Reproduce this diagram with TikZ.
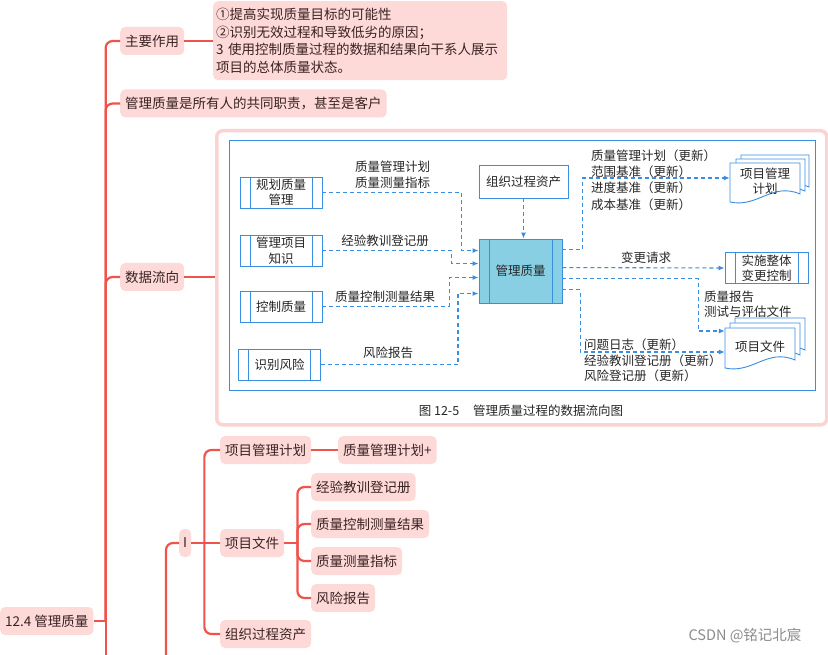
\documentclass[tikz,border=0pt]{standalone}
\usepackage{fontspec}
\setmainfont{Noto Sans CJK SC}
\usetikzlibrary{arrows.meta,calc}
\definecolor{mmline}{HTML}{F2524C}
\definecolor{mmfill}{HTML}{FDDAD8}
\definecolor{mmtext}{HTML}{3A2222}
\definecolor{bl}{HTML}{3A8EE0}
\definecolor{blfill}{HTML}{88CFE3}
\definecolor{framecol}{HTML}{FBD3D2}
\definecolor{dtext}{HTML}{262626}
\newcommand\mydocshape[4]{%
  \filldraw[draw=bl, fill=white, line width=0.9pt] (#1,#2) -- ({#1+#3},#2) -- ({#1+#3},{#2+#4-8})
   .. controls ({#1+0.6*#3},{#2+#4-20}) and ({#1+0.4*#3},{#2+#4+6}) .. (#1,{#2+#4}) -- cycle;}
\begin{document}
\begin{tikzpicture}[x=1pt,y=-1pt,
  mm/.style={fill=mmfill, rounded corners=5pt, inner xsep=5pt, inner ysep=0pt, minimum height=28pt,
     text=mmtext, font=\fontsize{13.5}{16}\selectfont, anchor=west},
  mml/.style={draw=mmline, line width=2.2pt, rounded corners=7pt},
  dfont/.style={font=\fontsize{12.5}{15.5}\selectfont, text=dtext},
  plainbox/.style={draw=bl, line width=0.9pt, fill=white, inner sep=0pt, align=center, dfont},
  proc/.style={plainbox, minimum width=82pt, minimum height=31pt,
     path picture={\draw[bl, line width=0.9pt]
       ([xshift=10pt]path picture bounding box.north west) -- ([xshift=10pt]path picture bounding box.south west)
       ([xshift=-10pt]path picture bounding box.north east) -- ([xshift=-10pt]path picture bounding box.south east);}},
  flow/.style={draw=bl, line width=1.1pt, dash pattern=on 4pt off 3pt, -{Latex[length=6pt,width=5pt]}},
  lbl/.style={dfont, inner sep=0pt},
]
\useasboundingbox (0,0) rectangle (828,655);
\fill[white] (0,0) rectangle (828,655);

% ---------- mind map ----------
\node[mm] (root) at (0,621) {12.4 管理质量};
\node[mm] (zy) at (120,41) {主要作用};
\node[mm, anchor=north west, align=left, text width=288pt, inner xsep=3pt, inner ysep=3pt, minimum height=79pt,
      font=\fontsize{13.5}{17.7}\selectfont] (desc) at (213,1)
  {①提高实现质量目标的可能性\\②识别无效过程和导致低劣的原因；\\3 使用控制质量过程的数据和结果向干系人展示\\项目的总体质量状态。};
\node[mm] (gl) at (120,103.5) {管理质量是所有人的共同职责，甚至是客户};
\node[mm] (sj) at (120,277) {数据流向};
\node[mm, inner xsep=4pt] (I) at (179,543) {I};
\node[mm] (xmjh) at (220,450) {项目管理计划};
\node[mm] (zlgl) at (338,450) {质量管理计划+};
\node[mm] (xmwj) at (220,543) {项目文件};
\node[mm] (c1) at (311,487) {经验教训登记册};
\node[mm] (c2) at (311,524) {质量控制测量结果};
\node[mm] (c3) at (311,561) {质量测量指标};
\node[mm] (c4) at (311,598) {风险报告};
\node[mm] (zzgc) at (220,634) {组织过程资产};

\node[draw=framecol, line width=3.5pt, rounded corners=6pt, fill=white, minimum width=610pt, minimum height=294pt,
      anchor=north west, inner sep=0pt] (fr) at (215,129) {};

\draw[mml] (root.east) -- ++(12,0) coordinate (trunk);
\draw[mml] (trunk) |- (zy.west);
\draw[mml] (trunk) |- (gl.west);
\draw[mml] (trunk) |- (sj.west);
\draw[mml] (trunk) -- ($(trunk)+(0,45)$);
\draw[mml] (zy.east) -- (zy.east -| desc.west);
\draw[mml] (sj.east) -- (sj.east -| fr.west);
\draw[mml] (I.west) -| ($(I.west)+(-13,120)$);
\draw[mml] (I.east) -- ++(13,0) coordinate (ib);
\draw[mml] (ib) |- (xmjh.west);
\draw[mml] (ib) |- (zzgc.west);
\draw[mml] (ib) -- (xmwj.west);
\draw[mml] (xmjh.east) -- (zlgl.west);
\draw[mml] (xmwj.east) -- ++(13,0) coordinate (wb);
\draw[mml] (wb) |- (c1.west);
\draw[mml] (wb) |- (c2.west);
\draw[mml] (wb) |- (c3.west);
\draw[mml] (wb) |- (c4.west);

% ---------- data flow diagram ----------
\draw[bl, line width=0.9pt] (229,140) rectangle (815,390);

\node[proc] (p1) at (281,192.5) {规划质量\\管理};
\node[proc] (p2) at (281,250.5) {管理项目\\知识};
\node[proc] (p3) at (281,306.5) {控制质量};
\node[proc] (p4) at (279.5,364.5) {识别风险};
\node[proc, fill=blfill, minimum width=83pt, minimum height=64pt] (mq) at (520.5,271) {管理质量};
\node[plainbox, minimum width=89pt, minimum height=33pt] (opa) at (523.5,181.5) {组织过程资产};
\node[proc, minimum width=83pt] (icc) at (766.5,268) {实施整体\\变更控制};

\mydocshape{741}{155}{68}{40}
\mydocshape{736}{159}{69}{40}
\mydocshape{730}{163}{70}{39}
\node[lbl, minimum width=70pt, align=center] (pmp) at (765,181) {项目管理\\计划};

\mydocshape{735}{318}{70}{40}
\mydocshape{730}{323}{70}{40}
\mydocshape{725}{328}{70}{40}
\node[lbl, minimum width=70pt, align=center] (pd) at (760,347) {项目文件};

% inputs
\draw[flow] (p1.east) -- ++(139,0) |- ($(mq.north west)+(0,12)$);
\draw[flow] (p2.east) -- ++(129,0) |- ($(mq.north west)+(0,25)$);
\draw[flow] (p3.east) -- ++(127,0) |- ($(mq.north west)+(0,39)$);
\draw[flow] (p4.east) -- ++(137,0) |- ($(mq.north west)+(0,55)$);
\draw[flow] (opa.south) -- (opa.south |- mq.north);
% outputs
\draw[flow] ($(mq.north east)+(0,11)$) -- ++(20,0) |- ($(pmp.west)+(0,-3)$);
\draw[flow] ($(mq.north east)+(0,29)$) -- (icc.west);
\draw[flow] ($(mq.north east)+(0,40)$) -- ++(136,0) |- ($(pd.west)+(0,-16)$);
\draw[flow] ($(mq.north east)+(0,51)$) -- ++(18,0) |- ($(pd.west)+(0,5)$);

% labels
\node[lbl, align=center] (l1) at (392.5,174.5) {质量管理计划\\质量测量指标};
\node[lbl] (l2) at (385,241) {经验教训登记册};
\node[lbl] (l3) at (385,297) {质量控制测量结果};
\node[lbl] (l4) at (388,353) {风险报告};
\node[lbl, align=left, anchor=west, font=\fontsize{12.5}{16.3}\selectfont] (l5) at (591,180) {质量管理计划（更新）\\范围基准（更新）\\进度基准（更新）\\成本基准（更新）};
\node[lbl] (l6) at (646,258) {变更请求};
\node[lbl, align=left, anchor=west] (l7) at (704,304) {质量报告\\测试与评估文件};
\node[lbl, align=left, anchor=west] (l8) at (584,360.5) {问题日志（更新）\\经验教训登记册（更新）\\风险登记册（更新）};

\node[lbl] (cap) at (521,411) {图 12-5\hspace{14pt}管理质量过程的数据流向图};

\node[inner sep=0pt, text=black!45, font=\fontsize{14.5}{17}\selectfont] (wm) at (745,636) {CSDN @铭记北宸};
\end{tikzpicture}
\end{document}
